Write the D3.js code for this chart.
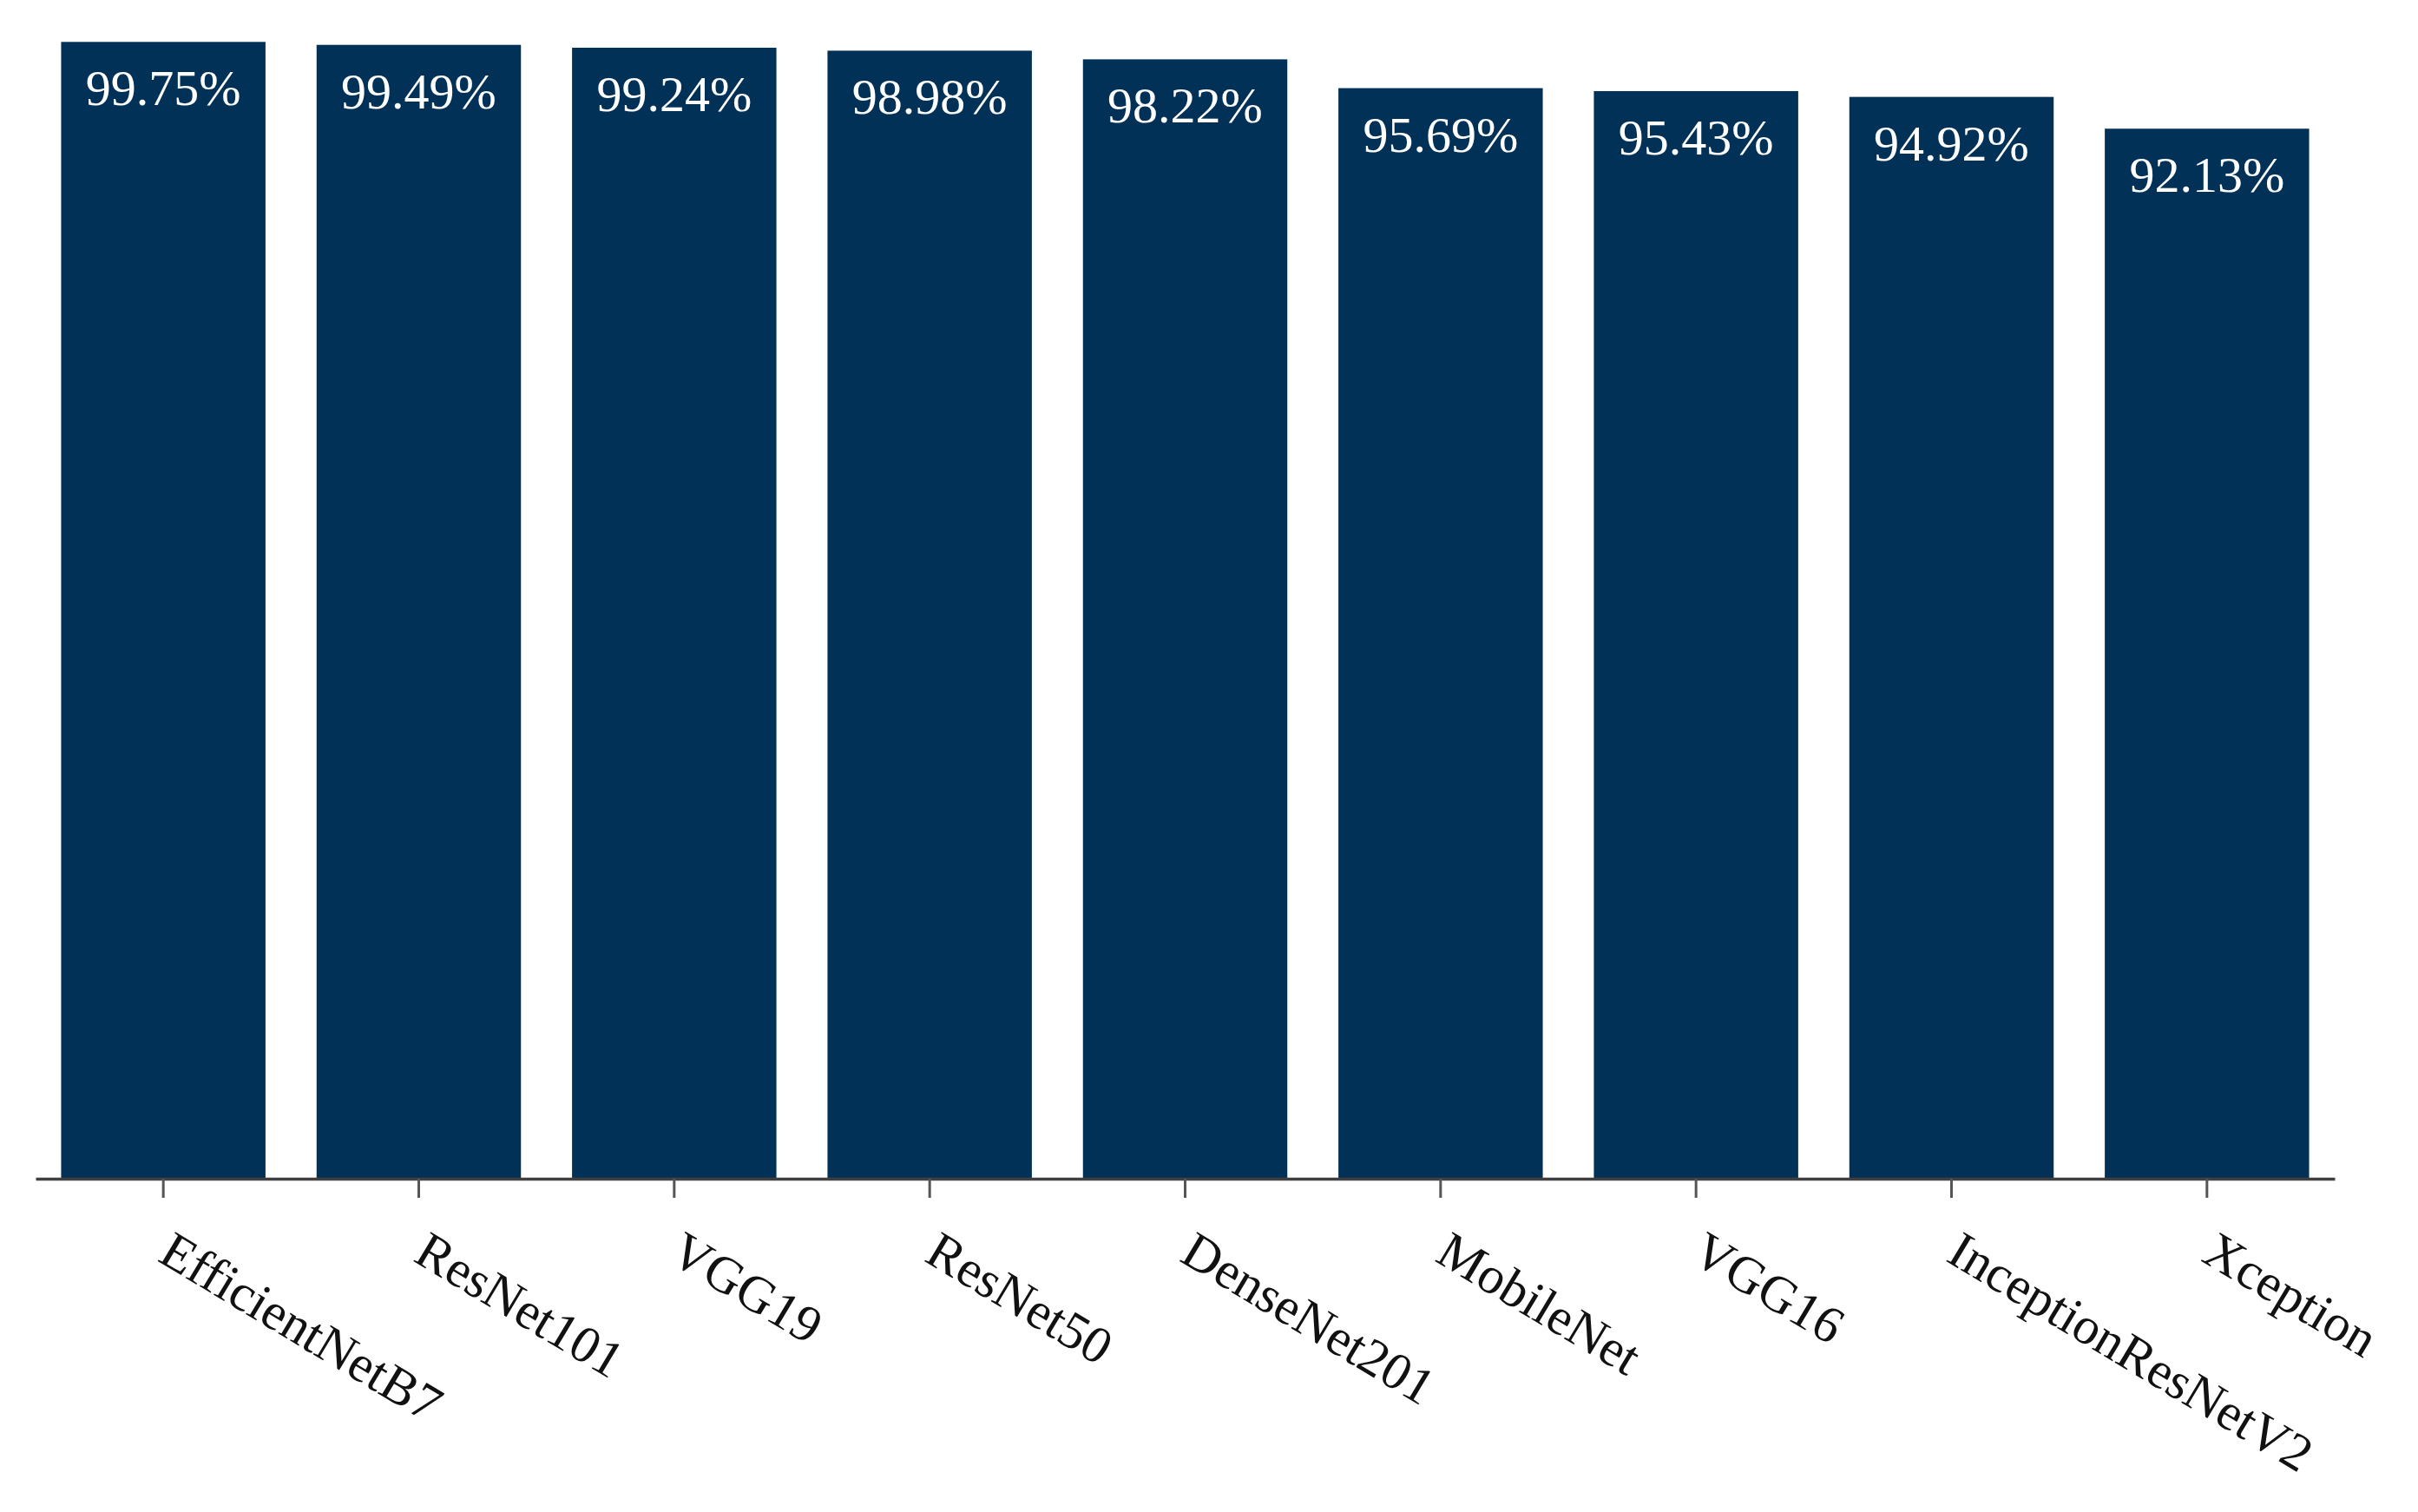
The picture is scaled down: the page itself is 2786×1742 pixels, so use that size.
<!DOCTYPE html>
<html>
<head>
<meta charset="utf-8">
<script src="https://cdn.jsdelivr.net/npm/d3@7/dist/d3.min.js"></script>
<style>
  html, body { margin: 0; padding: 0; background: #ffffff; }
  svg { display: block; }
</style>
</head>
<body>
<svg id="chart" width="2786" height="1742"></svg>
<script>
// ---- data ----
const categories = ["EfficientNetB7", "ResNet101", "VGG19", "ResNet50", "DenseNet201",
                    "MobileNet", "VGG16", "InceptionResNetV2", "Xception"];
const accuracy = [99.75, 99.49, 99.24, 98.98, 98.22, 95.69, 95.43, 94.92, 92.13];
const valueLabels = ["99.75%", "99.49%", "99.24%", "98.98%", "98.22%", "95.69%", "95.43%", "94.92%", "92.13%"];

const FONT = "'Palatino Linotype','Book Antiqua',Palatino,'Liberation Serif',serif";
const BAR = "#023157";

const svg = d3.select("#chart");
const left = 41, right = 2690, baseY = 1357, topY = 45;

const x = d3.scaleBand().domain(categories).range([left, right])
  .paddingInner(0.2).paddingOuter(0.1);
const y = d3.scaleLinear().domain([0, 100]).range([baseY, topY]);

const data = categories.map((c, i) => ({ c, v: accuracy[i], label: valueLabels[i] }));

svg.append("g").selectAll("rect").data(data).join("rect")
  .attr("x", d => x(d.c))
  .attr("width", x.bandwidth())
  .attr("y", d => y(d.v))
  .attr("height", d => y(0) - y(d.v))
  .attr("fill", BAR);

svg.append("g").selectAll("text").data(data).join("text")
  .attr("x", d => x(d.c) + x.bandwidth() / 2)
  .attr("y", d => y(d.v) + 73)
  .attr("text-anchor", "middle")
  .attr("fill", "#ffffff")
  .style("font-family", FONT)
  .style("font-size", "58px")
  .text(d => d.label);

const axis = svg.append("g")
  .attr("transform", `translate(0,${baseY + 1})`)
  .call(d3.axisBottom(x).tickSize(22).tickSizeOuter(0).tickPadding(0));

axis.select(".domain").attr("stroke", "#404040").attr("stroke-width", 3.5);
axis.selectAll(".tick line").attr("stroke", "#555555").attr("stroke-width", 3);
axis.selectAll(".tick text")
  .attr("x", 0).attr("y", 0).attr("dy", null)
  .attr("transform", "translate(-8,94) rotate(31)")
  .attr("text-anchor", "start")
  .attr("fill", "#111111")
  .style("font-family", FONT)
  .style("font-size", "60px");
</script>
</body>
</html>
